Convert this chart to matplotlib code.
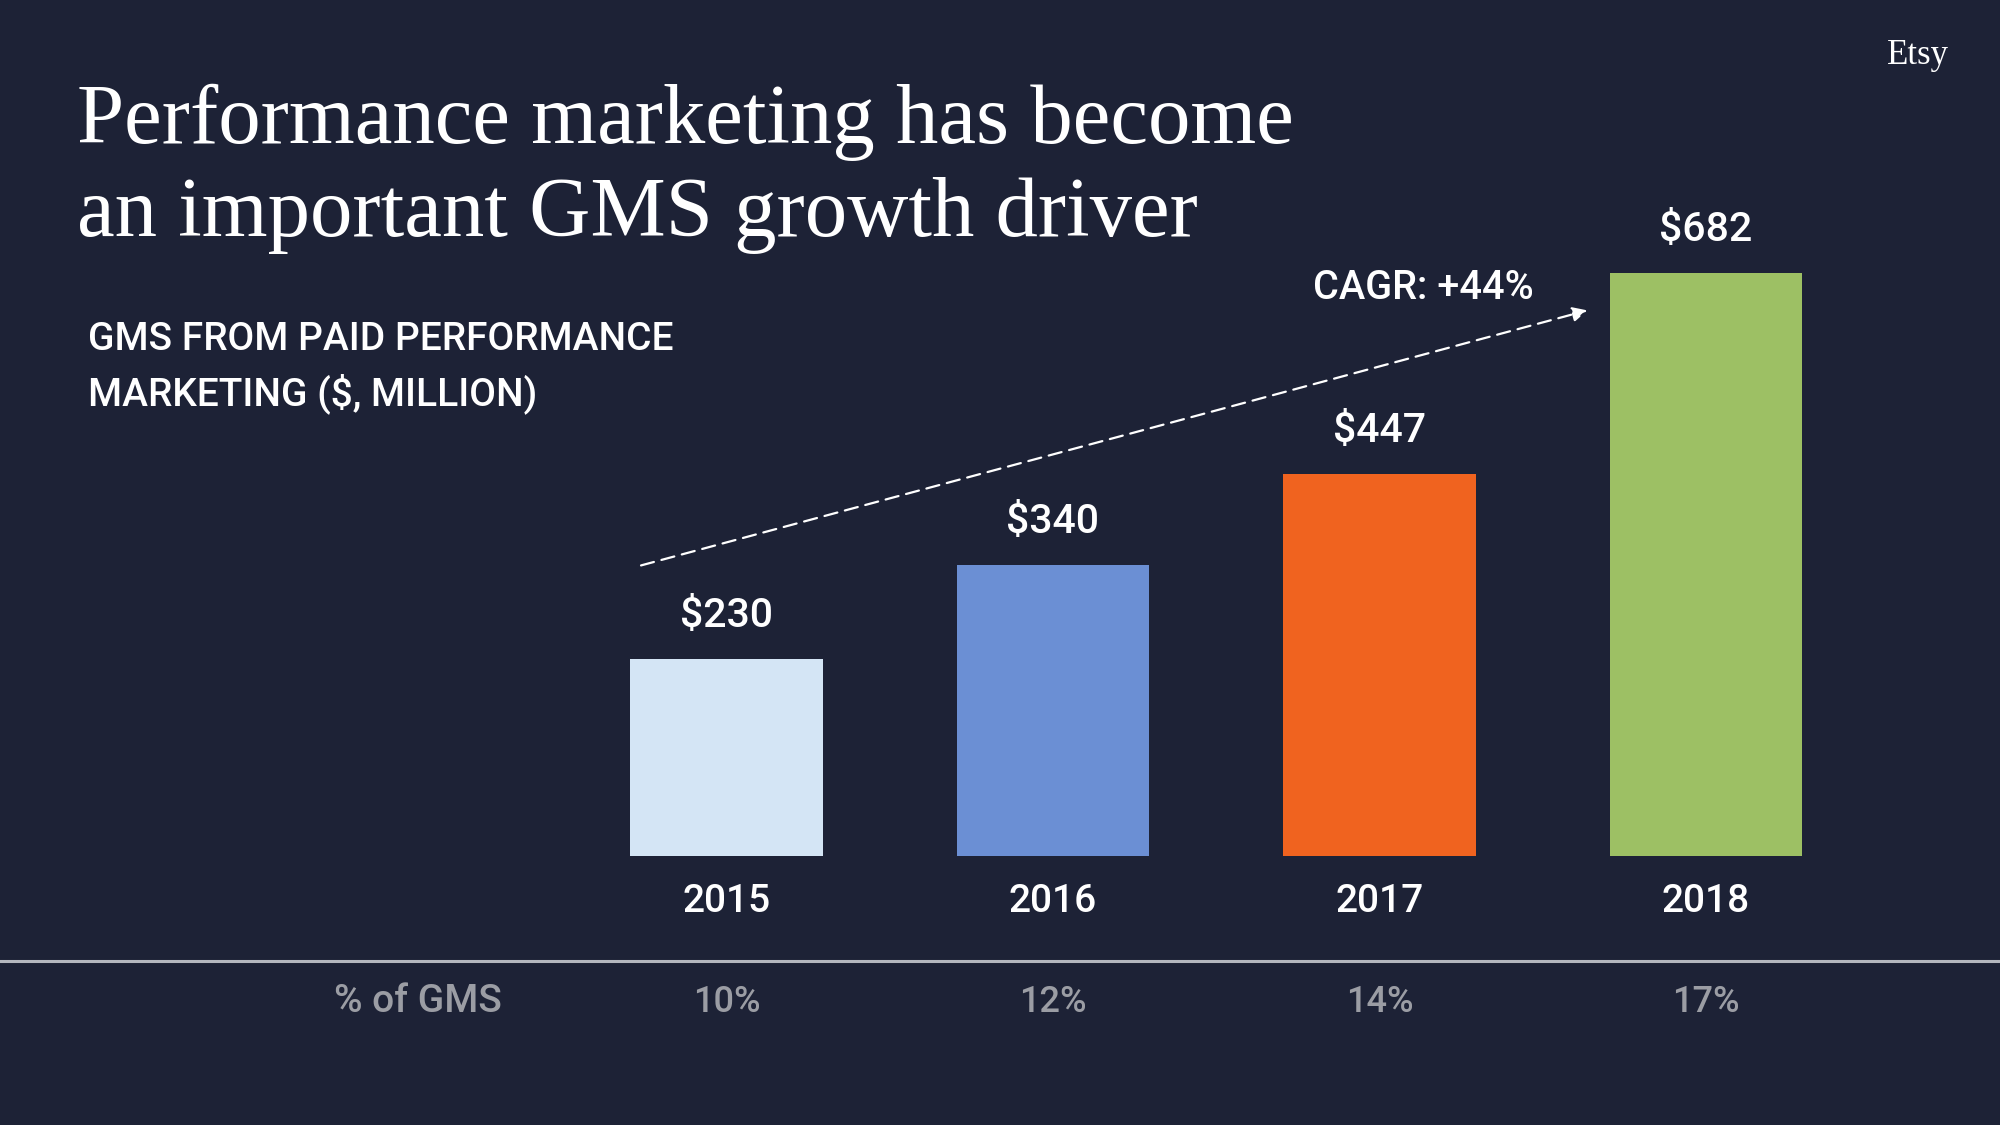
import matplotlib
matplotlib.use("Agg")
import matplotlib.pyplot as plt
import matplotlib.transforms as mtransforms

# data
years = ["2015", "2016", "2017", "2018"]
gms = [230, 340, 447, 682]
pct_of_gms = ["10%", "12%", "14%", "17%"]
bar_colors = ["#d4e5f5", "#6b8fd4", "#f0631f", "#9dc064"]

bg = "#1d2236"
sans = ["Roboto", "DejaVu Sans"]
serif = ["Liberation Serif", "DejaVu Serif"]

fig = plt.figure(figsize=(20, 11.25), dpi=100, facecolor=bg)
W, H = 2000, 1125

# axes: bar centres at 726..1706 px, baseline at 856 px
ax = fig.add_axes([563.25 / W, 1 - 856 / H, 1306 / W, 856 / H])
ax.set_facecolor("none")
ax.set_xlim(-0.5, 3.5)
ax.set_ylim(0, 856 / 0.855)
for s in ax.spines.values():
    s.set_visible(False)
ax.set_xticks([])
ax.set_yticks([])

x = list(range(len(years)))
ax.bar(x, gms, width=0.59, color=bar_colors, edgecolor="none")

for i, v in enumerate(gms):
    ax.annotate("$%d" % v, xy=(i, v), xytext=(0, 31), textcoords="offset points",
                ha="center", va="center", color="white", fontsize=29.5,
                family=sans, fontweight="medium")
    ax.annotate(years[i], xy=(i, 0), xytext=(0, -32.5), textcoords="offset points",
                ha="center", va="center", color="white", fontsize=28,
                family=sans, fontweight="medium")

# CAGR arrow
ax.annotate("", xy=(2.645, 639), xytext=(-0.27, 339),
            arrowprops=dict(arrowstyle="-|>", color="white", lw=1.6,
                            linestyle=(0, (6, 3.5)), mutation_scale=22),
            annotation_clip=False)
fig.text(1423 / W, 1 - 288 / H, "CAGR: +44%", ha="center", va="center",
         color="white", fontsize=28.5, family=sans, fontweight="medium")

# % of GMS row
trans = mtransforms.blended_transform_factory(ax.transData, fig.transFigure)
for i, p in enumerate(pct_of_gms):
    ax.text(i, 1 - 1002 / H, p, transform=trans, ha="center", va="center",
            color="#9b9da4", fontsize=26, family=sans, fontweight="medium")
fig.text(418 / W, 1 - 1002 / H, "% of GMS", ha="center", va="center",
         color="#9b9da4", fontsize=28, family=sans, fontweight="medium")

# separator line
fig.add_artist(plt.Line2D([0, 1], [1 - 961 / H, 1 - 961 / H], transform=fig.transFigure,
                          color="#b4b7bf", lw=2.2))

# title and labels
fig.text(77 / W, 1 - 143 / H, "Performance marketing has become", ha="left",
         va="baseline", color="white", fontsize=61, family=serif)
fig.text(77 / W, 1 - 236 / H, "an important GMS growth driver", ha="left",
         va="baseline", color="white", fontsize=61, family=serif)
fig.text(88 / W, 1 - 339 / H, "GMS FROM PAID PERFORMANCE", ha="left", va="center",
         color="white", fontsize=28, family=sans, fontweight="medium")
fig.text(88 / W, 1 - 394 / H, "MARKETING ($, MILLION)", ha="left", va="center",
         color="white", fontsize=28, family=sans, fontweight="medium")
fig.text(1949 / W, 1 - 64 / H, "Etsy", ha="right", va="baseline", color="white",
         fontsize=25, family=serif)

fig.savefig("out.png", dpi=100, facecolor=bg)
